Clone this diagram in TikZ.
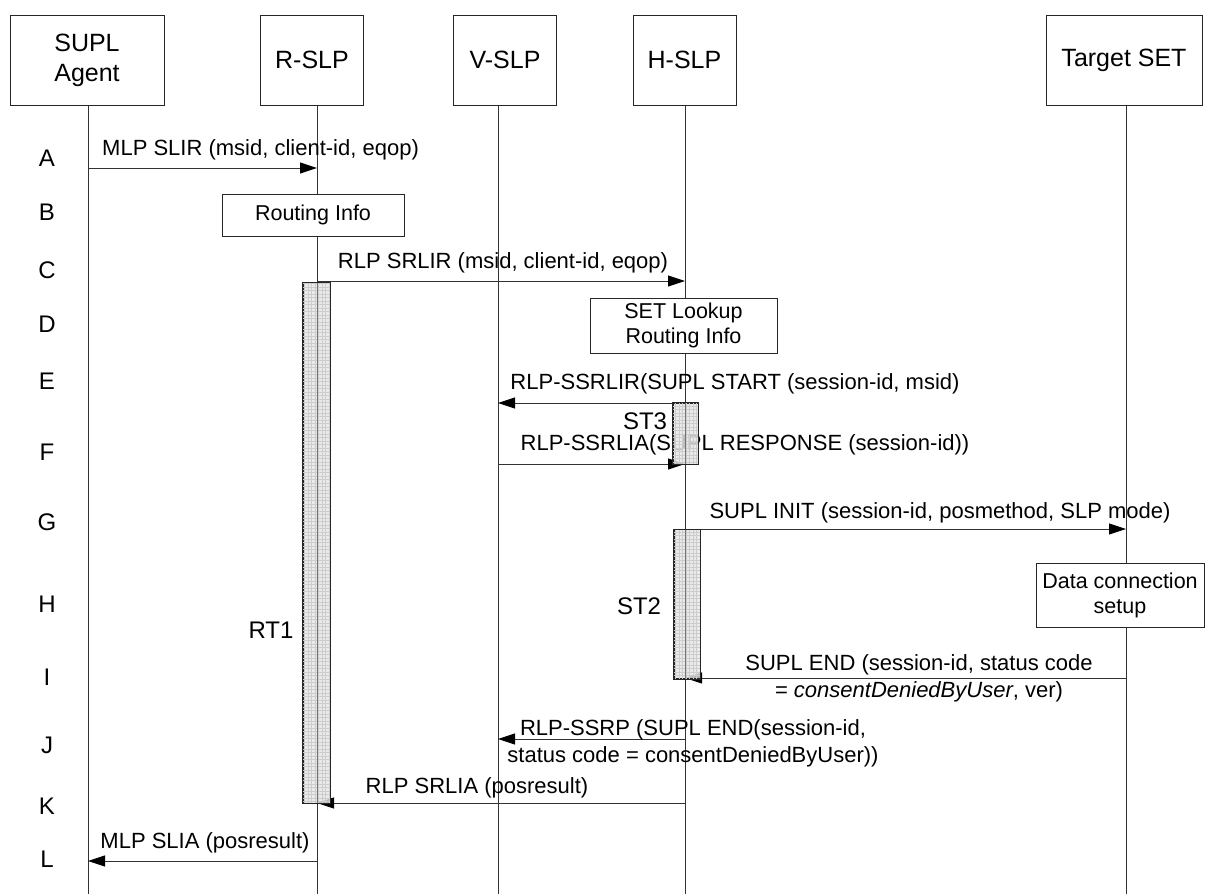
\documentclass[tikz,border=0pt]{standalone}
\usepackage{fontspec}
\setmainfont{Liberation Sans}
\usetikzlibrary{arrows.meta}
\begin{document}
\begin{tikzpicture}[x=1pt,y=-1pt,
  hdr/.style={draw=black!85, line width=1pt, minimum height=90pt, align=center, font=\fontsize{25}{30}\selectfont, inner sep=0pt},
  actbox/.style={draw=black!85, line width=1pt, fill=white, align=center, font=\fontsize{21.5}{25}\selectfont, inner sep=0pt},
  msg/.style={font=\fontsize{22}{27}\selectfont, align=center, inner sep=0pt},
  rowlab/.style={font=\fontsize{24}{28}\selectfont, inner sep=0pt},
  tlab/.style={font=\fontsize{24}{28}\selectfont, inner sep=0pt},
  life/.style={black!80, line width=0.8pt},
  arr/.style={black!80, line width=0.8pt, -{Triangle[length=17pt,width=11pt,color=black]}},
  timer/.style={draw=black!85, line width=1pt, fill=gray!20, fill opacity=0.8, draw opacity=1, inner sep=0pt},
  tgrid/.style={gray!40, line width=0.3pt}
]
\useasboundingbox (0,0) rectangle (1206,894);
% headers
\node[hdr, minimum width=154pt] (agent) at (87,60) {SUPL\\Agent};
\node[hdr, minimum width=103pt] (rslp) at (312,60) {R-SLP};
\node[hdr, minimum width=103pt] (vslp) at (505,60) {V-SLP};
\node[hdr, minimum width=103pt] (hslp) at (684.5,60) {H-SLP};
\node[hdr, minimum width=156pt] (tset) at (1124,60) {Target SET};
% lifeline ends
\coordinate (agentB) at (88,894);
\coordinate (rslpB) at (317,894);
\coordinate (vslpB) at (498,894);
\coordinate (hslpB) at (685,894);
\coordinate (tsetB) at (1126,894);
\draw[life] (agent.south -| agentB) -- (agentB);
\draw[life] (rslp.south -| rslpB) -- (rslpB);
\draw[life] (vslp.south -| vslpB) -- (vslpB);
\draw[life] (hslp.south -| hslpB) -- (hslpB);
\draw[life] (tset.south -| tsetB) -- (tsetB);
% row labels
\node[rowlab] (lA) at (47,158) {A};
\node[rowlab] (lB) at (47,212) {B};
\node[rowlab] (lC) at (47,270) {C};
\node[rowlab] (lD) at (47,324) {D};
\node[rowlab] (lE) at (47,381) {E};
\node[rowlab] (lF) at (47,452) {F};
\node[rowlab] (lG) at (47,522) {G};
\node[rowlab] (lH) at (47,604) {H};
\node[rowlab] (lI) at (47,677) {I};
\node[rowlab] (lJ) at (47,745) {J};
\node[rowlab] (lK) at (47,806) {K};
\node[rowlab] (lL) at (47,859) {L};
% boxes
\node[actbox, minimum width=182pt, minimum height=42pt] (routing) at (313,215) {Routing Info};
\node[actbox, minimum width=187pt, minimum height=55pt] (lookup) at (683.5,325.5) {SET Lookup\\Routing Info};
\node[actbox, minimum width=168pt, minimum height=64pt] (dataconn) at (1120,595) {Data connection\\setup};
% message end points
\coordinate (a0) at (88,168);   \coordinate (a1) at (317,168);
\coordinate (c0) at (317,281);  \coordinate (c1) at (685,281);
\coordinate (e0) at (685,403);  \coordinate (e1) at (498,403);
\coordinate (f0) at (498,464);  \coordinate (f1) at (685,464);
\coordinate (g0) at (685,529);  \coordinate (g1) at (1126,529);
\coordinate (i0) at (1126,678); \coordinate (i1) at (685,678);
\coordinate (j0) at (685,739);  \coordinate (j1) at (498,739);
\coordinate (k0) at (685,803);  \coordinate (k1) at (317,803);
\coordinate (l0) at (317,861);  \coordinate (l1) at (88,861);
\draw[arr] (a0) -- (a1);
\draw[arr] (c0) -- (c1);
\draw[arr] (e0) -- (e1);
\draw[arr] (f0) -- (f1);
\draw[arr] (g0) -- (g1);
\draw[arr] (i0) -- (i1);
\draw[arr] (j0) -- (j1);
\draw[arr] (k0) -- (k1);
\draw[arr] (l0) -- (l1);
% message labels
\node[msg, anchor=west] (tA) at (102,150) {MLP SLIR (msid, client-id, eqop)};
\node[msg] (tC) at (503,263) {RLP SRLIR (msid, client-id, eqop)};
\node[msg] (tE) at (735,384) {RLP-SSRLIR(SUPL START (session-id, msid)};
\node[msg] (tF) at (745,445) {RLP-SSRLIA(SUPL RESPONSE (session-id))};
\node[msg] (tG) at (940,513) {SUPL INIT (session-id, posmethod, SLP mode)};
\node[msg] (tI) at (919,678) {SUPL END (session-id, status code\\= \textit{consentDeniedByUser}, ver)};
\node[msg] (tJ) at (693,743) {RLP-SSRP (SUPL END(session-id,\\status code = consentDeniedByUser))};
\node[msg] (tK) at (477,788) {RLP SRLIA (posresult)};
\node[msg] (tL) at (205,843) {MLP SLIA (posresult)};
% timers
\node[timer, minimum width=27pt, minimum height=520pt] (rt1) at (316.5,543) {};
\draw[tgrid, step=3.5pt] (rt1.north west) grid (rt1.south east);
\draw[black!55, line width=0.5pt] (rt1.north -| rslpB) -- (rt1.south -| rslpB);
\draw[black!85, line width=1pt] (rt1.north west) rectangle (rt1.south east);
\node[timer, minimum width=25pt, minimum height=61pt] (st3) at (685.5,433.5) {};
\draw[tgrid, step=3.5pt] (st3.north west) grid (st3.south east);
\draw[black!55, line width=0.5pt] (st3.north -| hslpB) -- (st3.south -| hslpB);
\draw[black!85, line width=1pt] (st3.north west) rectangle (st3.south east);
\node[timer, minimum width=26pt, minimum height=149pt] (st2) at (687,604) {};
\draw[tgrid, step=3.5pt] (st2.north west) grid (st2.south east);
\draw[black!55, line width=0.5pt] (st2.north -| hslpB) -- (st2.south -| hslpB);
\draw[black!85, line width=1pt] (st2.north west) rectangle (st2.south east);
\node[tlab] (lRT1) at (271,630) {RT1};
\node[tlab] (lST3) at (645,421) {ST3};
\node[tlab] (lST2) at (639,606) {ST2};
\end{tikzpicture}
\end{document}
